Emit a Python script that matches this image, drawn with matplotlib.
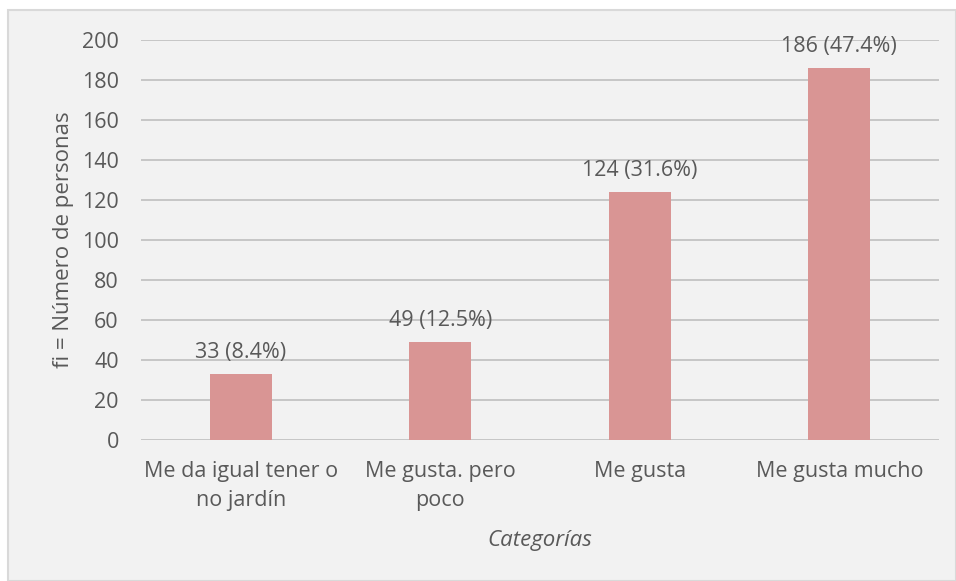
import numpy as np
import matplotlib.pyplot as plt
from matplotlib.patches import Rectangle

categorias = ["Me da igual tener o\nno jardín", "Me gusta. pero\npoco", "Me gusta", "Me gusta mucho"]
frecuencias = [33, 49, 124, 186]
porcentajes = [8.4, 12.5, 31.6, 47.4]
ticks_y = [0, 20, 40, 60, 80, 100, 120, 140, 160, 180, 200]

texto = "#595959"
fondo = "#F2F2F2"
color_barra = "#D99594"

plt.rcParams['font.family'] = ['Open Sans', 'DejaVu Sans']

fig = plt.figure(figsize=(9.56, 5.81), dpi=100, facecolor="white")
# marco del grafico
fig.patches.append(Rectangle((8 / 956, 0), 948 / 956, 571 / 581, transform=fig.transFigure,
                             facecolor=fondo, edgecolor="#D9D9D9", linewidth=1.5, zorder=-10))

ax = fig.add_axes([141 / 956, 1 - 440 / 581, 798 / 956, 400 / 581])
ax.patch.set_alpha(0)

x = np.arange(len(categorias))
ax.bar(x, frecuencias, width=0.31, color=color_barra, zorder=3)
for xi, f, p in zip(x, frecuencias, porcentajes):
    ax.text(xi, f + 5.5, "{} ({}%)".format(f, p), ha="center", va="bottom", fontsize=15.5, color=texto)

ax.set_xlim(-0.5, len(categorias) - 0.5)
ax.set_ylim(0, 200)
ax.set_yticks(ticks_y)
ax.grid(True, axis="y", color="#BFBFBF", linewidth=1.2, zorder=0)
for s in ax.spines.values():
    s.set_visible(False)
ax.tick_params(axis="both", length=0, labelsize=15.5, labelcolor=texto)
ax.tick_params(axis="y", pad=16)
ax.tick_params(axis="x", pad=15)
ax.set_xticks(x)
ax.set_xticklabels(categorias, linespacing=1.5)

ax.set_xlabel("Categorías", fontsize=16, color=texto, style="italic", labelpad=14)
ax.set_ylabel("fi = Número de personas", fontsize=16, color=texto)
ax.yaxis.set_label_coords(74 / 956, 1 - 240 / 581, transform=fig.transFigure)

fig.savefig("out.png", dpi=100, facecolor=fig.get_facecolor())
